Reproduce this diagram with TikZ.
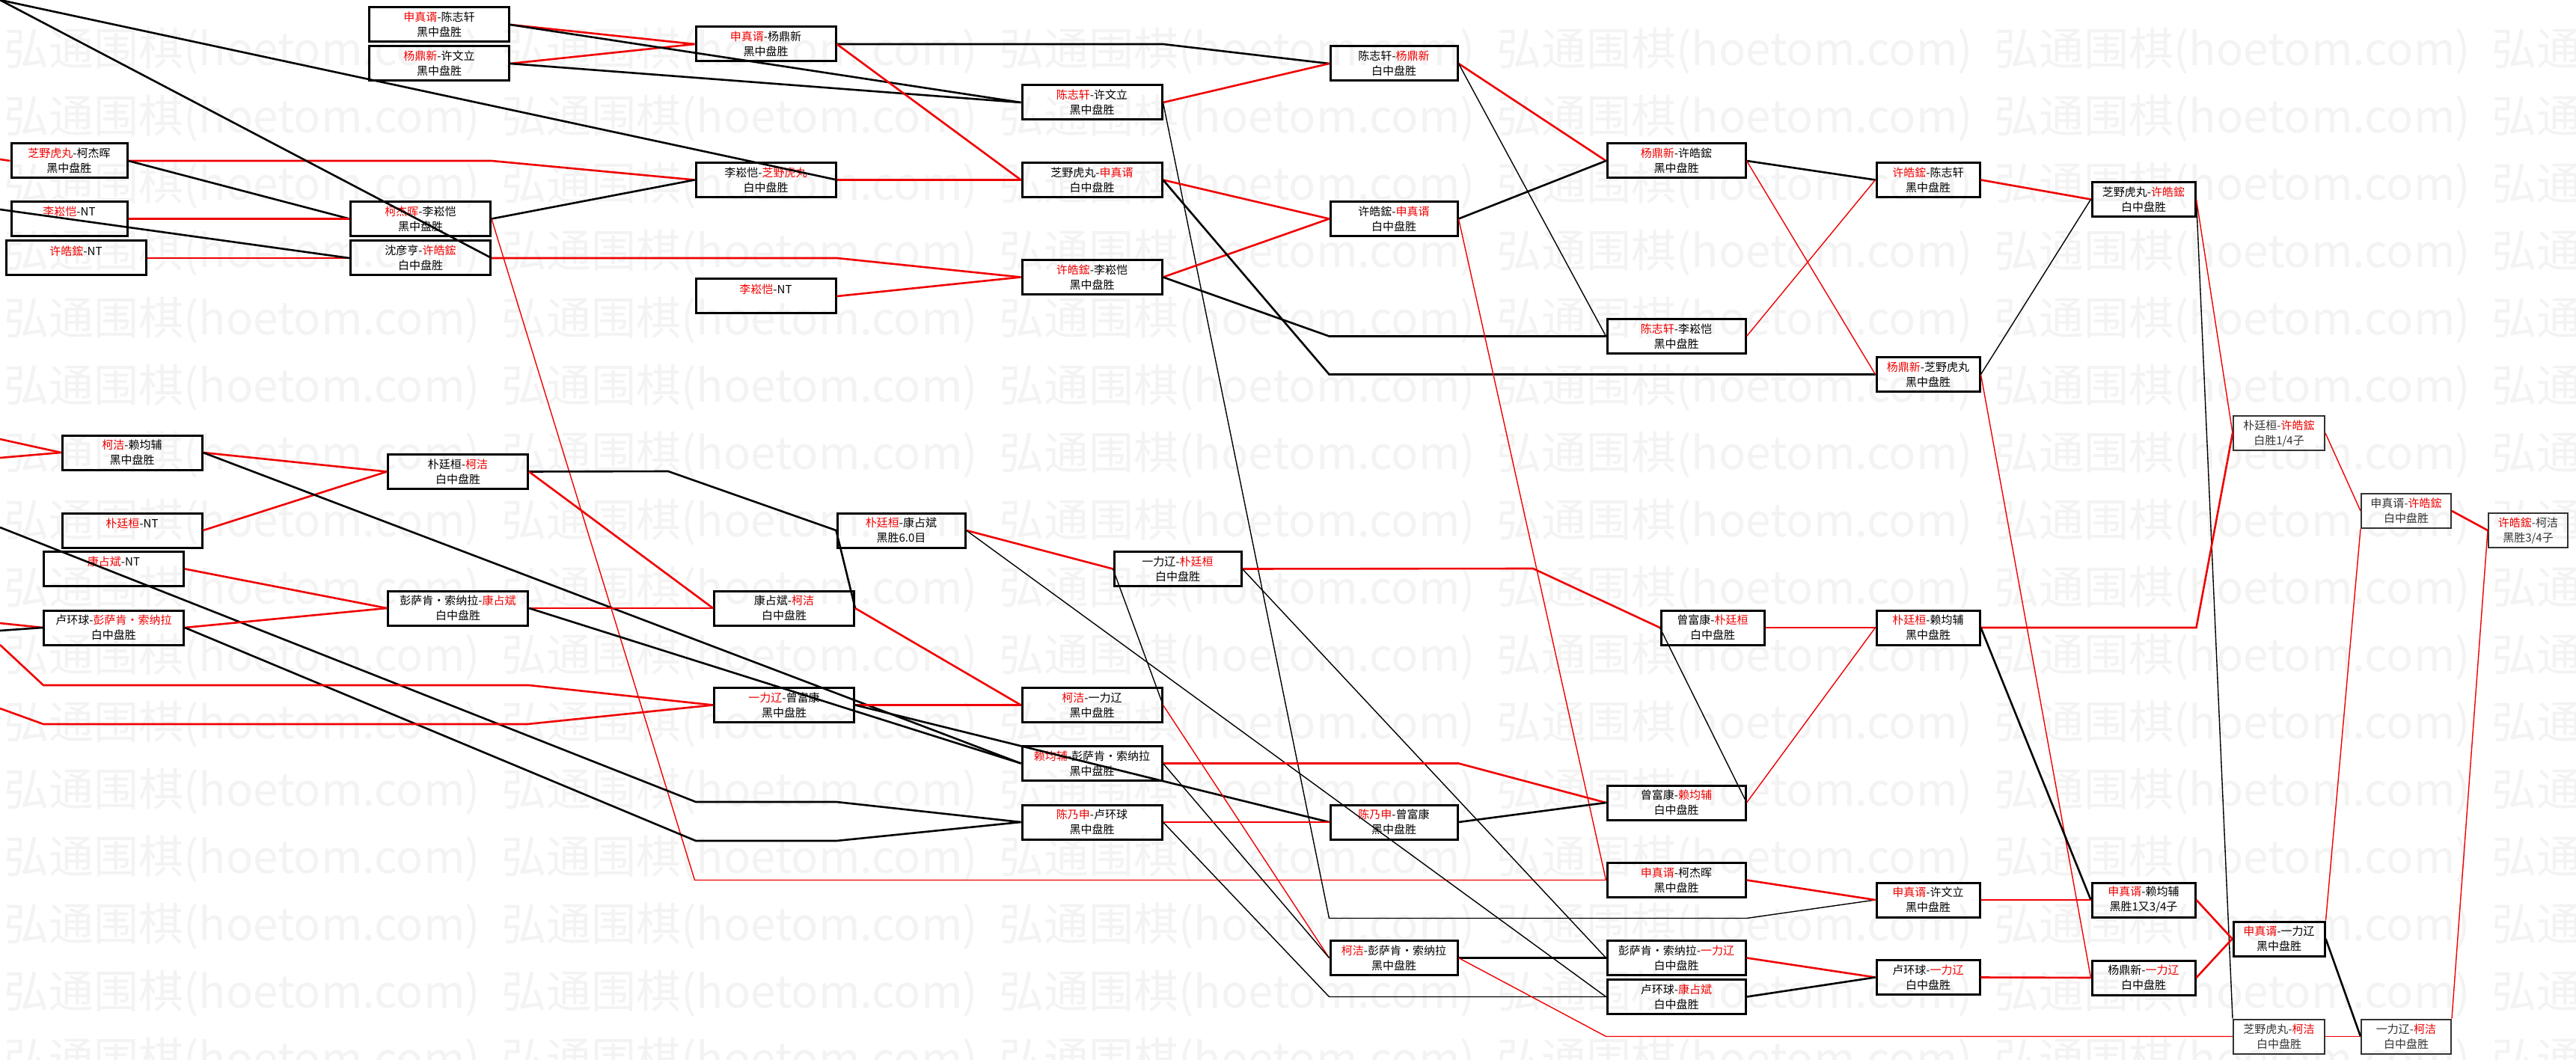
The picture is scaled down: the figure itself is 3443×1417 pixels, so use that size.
\documentclass[tikz,border=0pt]{standalone}
\usepackage{fontspec}
\setmainfont{Noto Sans CJK SC}
\usepackage{tikz}
\usetikzlibrary{calc}
\definecolor{wqred}{HTML}{F00000}
\definecolor{wqmark}{HTML}{F3F3F3}
\definecolor{wqgray}{HTML}{333333}
\newcommand{\wqr}[1]{\textcolor{wqred}{#1}}
\tikzset{
  wq/box/.style={
    draw=black, line width=1.5pt, align=center, inner sep=0pt,
    minimum width=#1*0.5pt, minimum height=23pt, font=\fontsize{7.5}{10}\selectfont
  },
  wq/box/.default=187,
  wq/late/.style={wq/box=#1, line width=1pt, draw=wqgray, text=wqgray},
  wq/late/.default=122,
  wq/mark/.style={text=wqmark, anchor=west, inner sep=0pt, font=\fontsize{30}{30}\selectfont},
  wq/blk/.style={black, line width=1.3pt},
  wq/red/.style={wqred, line width=1.3pt},
  wq/blkt/.style={black, line width=0.7pt},
  wq/redt/.style={wqred, line width=0.7pt}
}
\begin{document}
\begin{tikzpicture}[x=0.5pt, y=-0.5pt]
  \useasboundingbox (0,0) rectangle (3443,1417);
  \fill[white] (0,0) rectangle (3443,1417);
  \begin{scope}
    \clip (0,0) rectangle (3443,1417);
    \foreach \j in {0,...,15}
      \foreach \k in {0,...,5}
        \node[wq/mark] (wm\j-\k) at ({5+665*\k},{68+90*\j}) {弘通围棋(hoetom.com)};
  \end{scope}

  \coordinate (in0) at (0,0);
  \coordinate (ina) at (0,213);
  \coordinate (inb) at (0,280);
  \coordinate (inc) at (0,587);
  \coordinate (ind) at (0,612);
  \coordinate (ine) at (0,705);
  \coordinate (inf) at (0,833);
  \coordinate (ing) at (0,843);
  \coordinate (inh) at (0,862);
  \coordinate (ini) at (0,947);

  % matches
  \node[wq/box=155] (n01) at (92.5,215) {\wqr{芝野虎丸}-柯杰晖\\黑中盘胜};
  \node[wq/box=155] (n02) at (92.5,292.5) {\wqr{李崧恺}-NT\\\mbox{}};
  \node[wq/box] (n03) at (101.5,345) {\wqr{许皓鋐}-NT\\\mbox{}};
  \node[wq/box] (n04) at (176.5,605) {\wqr{柯洁}-赖均辅\\黑中盘胜};
  \node[wq/box] (n05) at (176.5,709) {\wqr{朴廷桓}-NT\\\mbox{}};
  \node[wq/box] (n06) at (152,760.5) {\wqr{康占斌}-NT\\\mbox{}};
  \node[wq/box] (n07) at (152,839) {卢环球-\wqr{彭萨肯·索纳拉}\\白中盘胜};

  \node[wq/box] (n11) at (587,33) {\wqr{申真谞}-陈志轩\\黑中盘胜};
  \node[wq/box] (n12) at (587,85) {\wqr{杨鼎新}-许文立\\黑中盘胜};
  \node[wq/box] (n13) at (562,292.5) {\wqr{柯杰晖}-李崧恺\\黑中盘胜};
  \node[wq/box] (n14) at (562,345) {沈彦亨-\wqr{许皓鋐}\\白中盘胜};
  \node[wq/box] (n15) at (612,630.5) {朴廷桓-\wqr{柯洁}\\白中盘胜};
  \node[wq/box] (n16) at (612,813) {彭萨肯·索纳拉-\wqr{康占斌}\\白中盘胜};

  \node[wq/box] (n21) at (1023.5,59) {\wqr{申真谞}-杨鼎新\\黑中盘胜};
  \node[wq/box] (n22) at (1023.5,240.5) {李崧恺-\wqr{芝野虎丸}\\白中盘胜};
  \node[wq/box] (n23) at (1023.5,396) {\wqr{李崧恺}-NT\\\mbox{}};
  \node[wq/box=171] (n24) at (1204.5,709) {\wqr{朴廷桓}-康占斌\\黑胜6.0目};
  \node[wq/box] (n25) at (1048,813) {康占斌-\wqr{柯洁}\\白中盘胜};
  \node[wq/box] (n26) at (1048,942.5) {\wqr{一力辽}-曾富康\\黑中盘胜};

  \node[wq/box] (n31) at (1459.5,137) {\wqr{陈志轩}-许文立\\黑中盘胜};
  \node[wq/box] (n32) at (1459.5,240.5) {芝野虎丸-\wqr{申真谞}\\白中盘胜};
  \node[wq/box] (n33) at (1459.5,370.5) {\wqr{许皓鋐}-李崧恺\\黑中盘胜};
  \node[wq/box=170] (n34) at (1574,760.5) {一力辽-\wqr{朴廷桓}\\白中盘胜};
  \node[wq/box] (n35) at (1459.5,942.5) {\wqr{柯洁}-一力辽\\黑中盘胜};
  \node[wq/box] (n36) at (1459.5,1020.5) {\wqr{赖均辅}-彭萨肯·索纳拉\\黑中盘胜};
  \node[wq/box] (n37) at (1459.5,1099) {\wqr{陈乃申}-卢环球\\黑中盘胜};

  \node[wq/box=170] (n41) at (1863,85) {陈志轩-\wqr{杨鼎新}\\白中盘胜};
  \node[wq/box=170] (n42) at (1863,292.5) {许皓鋐-\wqr{申真谞}\\白中盘胜};
  \node[wq/box=170] (n43) at (1863,1099) {\wqr{陈乃申}-曾富康\\黑中盘胜};
  \node[wq/box=170] (n44) at (1863,1280.5) {\wqr{柯洁}-彭萨肯·索纳拉\\黑中盘胜};

  \node[wq/box=185] (n51) at (2240.5,215) {\wqr{杨鼎新}-许皓鋐\\黑中盘胜};
  \node[wq/box=185] (n52) at (2240.5,449.5) {\wqr{陈志轩}-李崧恺\\黑中盘胜};
  \node[wq/box=138] (n53) at (2289,839) {曾富康-\wqr{朴廷桓}\\白中盘胜};
  \node[wq/box=185] (n54) at (2240.5,1073) {曾富康-\wqr{赖均辅}\\白中盘胜};
  \node[wq/box=185] (n55) at (2240.5,1176.5) {\wqr{申真谞}-柯杰晖\\黑中盘胜};
  \node[wq/box=185] (n56) at (2240.5,1280.5) {彭萨肯·索纳拉-\wqr{一力辽}\\白中盘胜};
  \node[wq/box=185] (n57) at (2240.5,1332.5) {卢环球-\wqr{康占斌}\\白中盘胜};

  \node[wq/box=138] (n61) at (2577,240.5) {\wqr{许皓鋐}-陈志轩\\黑中盘胜};
  \node[wq/box=138] (n62) at (2577,500.5) {\wqr{杨鼎新}-芝野虎丸\\黑中盘胜};
  \node[wq/box=138] (n63) at (2577,839) {\wqr{朴廷桓}-赖均辅\\黑中盘胜};
  \node[wq/box=138] (n64) at (2577,1203) {\wqr{申真谞}-许文立\\黑中盘胜};
  \node[wq/box=138] (n65) at (2577,1306.5) {卢环球-\wqr{一力辽}\\白中盘胜};

  \node[wq/box=138] (n71) at (2865,266.5) {芝野虎丸-\wqr{许皓鋐}\\白中盘胜};
  \node[wq/box=138] (n72) at (2865,1203) {\wqr{申真谞}-赖均辅\\黑胜1又3/4子};
  \node[wq/box=138] (n73) at (2865,1307) {杨鼎新-\wqr{一力辽}\\白中盘胜};

  \node[wq/late] (n81) at (3046,579) {朴廷桓-\wqr{许皓鋐}\\白胜1/4子};
  \node[wq/box=122] (n82) at (3046,1255) {\wqr{申真谞}-一力辽\\黑中盘胜};
  \node[wq/late] (n83) at (3046,1385.5) {芝野虎丸-\wqr{柯洁}\\白中盘胜};
  \node[wq/late=120] (n91) at (3216,683) {申真谞-\wqr{许皓鋐}\\白中盘胜};
  \node[wq/late=120] (n92) at (3216,1385.5) {一力辽-\wqr{柯洁}\\白中盘胜};
  \node[wq/late=106] (n101) at (3379,709) {\wqr{许皓鋐}-柯洁\\黑胜3/4子};

  % upper half
  \draw[wq/red] (ina) -- (n01.west);
  \draw[wq/red] (n01.east) -- (n01.east -| n13.east) -- (n22.west);
  \draw[wq/blk] (n01.east) -- (n13.west);
  \draw[wq/red] (n02.east) -- (n13.west);
  \draw[wq/red] (n03.east) -- (n14.west);
  \draw[wq/blk] (inb) -- (n14.west);
  \draw[wq/blk] (in0) -- (n14.east);
  \draw[wq/blk] (in0) -- (n22.east);
  \draw[wq/blk] (n13.east) -- (n22.west);
  \draw[wq/redt] (n13.east) -- (n22.west |- n55.west) -- (n55.west);
  \draw[wq/red] (n11.east) -- (n21.west);
  \draw[wq/red] (n12.east) -- (n21.west);
  \draw[wq/blk] (n11.east) -- (n31.west);
  \draw[wq/blk] (n12.east) -- (n31.west);
  \draw[wq/blk] (n21.east) -- (n21.east -| n31.east) -- (n41.west);
  \draw[wq/red] (n21.east) -- (n32.west);
  \draw[wq/red] (n22.east) -- (n32.west);
  \draw[wq/red] (n14.east) -- (n14.east -| n22.east) -- (n33.west);
  \draw[wq/red] (n23.east) -- (n33.west);
  \draw[wq/red] (n31.east) -- (n41.west);
  \draw[wq/blkt] (n31.east) -- (n41.west |- n64.south) -- (n64.south -| n51.east) -- (n64.west);
  \draw[wq/red] (n32.east) -- (n42.west);
  \draw[wq/red] (n33.east) -- (n42.west);
  \draw[wq/blk] (n32.east) -- (n42.west |- n62.west) -- (n62.west);
  \draw[wq/blk] (n33.east) -- (n42.west |- n52.west) -- (n52.west);
  \draw[wq/red] (n41.east) -- (n51.west);
  \draw[wq/blkt] (n41.east) -- (n52.west);
  \draw[wq/blk] (n42.east) -- (n51.west);
  \draw[wq/redt] (n42.east) -- (n55.west);
  \draw[wq/blk] (n51.east) -- (n61.west);
  \draw[wq/redt] (n51.east) -- (n62.west);
  \draw[wq/redt] (n52.east) -- (n61.west);
  \draw[wq/red] (n61.east) -- (n71.west);
  \draw[wq/blkt] (n62.east) -- (n71.west);
  \draw[wq/blkt] (n71.east) -- (n83.north west);
  \draw[wq/redt] (n71.east) -- (n81.west);
  \draw[wq/redt] (n62.east) -- (n73.west);

  % lower half
  \draw[wq/red] (inc) -- (n04.west);
  \draw[wq/red] (ind) -- (n04.west);
  \draw[wq/red] (n04.east) -- (n15.west);
  \draw[wq/red] (n05.east) -- (n15.west);
  \draw[wq/blk] (n04.east) -- (n36.west);
  \draw[wq/blk] (ine) -- (930,1072) -- (1118,1072) -- (n37.west);
  \draw[wq/red] (inf) -- (n07.west);
  \draw[wq/blk] (ing) -- (n07.west);
  \draw[wq/red] (n06.east) -- (n16.west);
  \draw[wq/red] (n07.east) -- (n16.west);
  \draw[wq/blk] (n07.east) -- (930,1124) -- (1118,1124) -- (n37.west);
  \draw[wq/red] (inh) -- (58,916) -- (707,916) -- (n26.west);
  \draw[wq/red] (ini) -- (58,968) -- (705,968) -- (n26.west);
  \draw[wq/blk] (n15.east) -- (893,630) -- (n24.west);
  \draw[wq/red] (n15.east) -- (n25.west);
  \draw[wq/red] (n16.east) -- (n25.west);
  \draw[wq/blk] (n16.east) -- (n36.west);
  \draw[wq/blk] (n24.west) -- (n25.east);
  \draw[wq/red] (n24.east) -- (n34.west);
  \draw[wq/blkt] (n24.east) -- (n57.west);
  \draw[wq/red] (n25.east) -- (n35.west);
  \draw[wq/red] (n26.east) -- (n35.west);
  \draw[wq/blk] (n26.east) -- (n43.west);
  \draw[wq/blkt] (n35.east) -- (n34.west);
  \draw[wq/redt] (n35.east) -- (n44.west);
  \draw[wq/red] (n34.east) -- (2049,760) -- (n53.west);
  \draw[wq/blkt] (n34.east) -- (n56.west);
  \draw[wq/red] (n36.east) -- (n36.east -| n43.east) -- (n54.west);
  \draw[wq/blkt] (n36.east) -- (n44.west);
  \draw[wq/red] (n37.east) -- (n43.west);
  \draw[wq/blkt] (n37.east) -- (n43.west |- n57.west) -- (n57.west);
  \draw[wq/blk] (n43.east) -- (n54.west);
  \draw[wq/red] (n53.east) -- (n63.west);
  \draw[wq/blkt] (n53.west) -- (n54.east);
  \draw[wq/redt] (n54.east) -- (n63.west);
  \draw[wq/blk] (n44.east) -- (n56.west);
  \draw[wq/redt] (n44.east) -- (n56.west |- n83.west) -- (n83.west);
  \draw[wq/red] (n55.east) -- (n64.west);
  \draw[wq/red] (n56.east) -- (n65.west);
  \draw[wq/blk] (n57.east) -- (n65.west);
  \draw[wq/red] (n63.east) -- (n63.east -| n72.east) -- (n81.west);
  \draw[wq/blk] (n63.east) -- (n72.west);
  \draw[wq/red] (n64.east) -- (n72.west);
  \draw[wq/red] (n65.east) -- (n73.west);
  \draw[wq/red] (n72.east) -- (n82.west);
  \draw[wq/red] (n73.east) -- (n82.west);
  \draw[wq/blk] (n82.east) -- (n92.west);
  \draw[wq/redt] (n82.north east) -- (n91.south west);
  \draw[wq/redt] (n81.east) -- (n91.west);
  \draw[wq/redt] (n83.east) -- (n92.west);
  \draw[wq/red] (n91.east) -- (n101.west);
  \draw[wq/redt] (n92.north east) -- (n101.west);
\end{tikzpicture}
\end{document}
